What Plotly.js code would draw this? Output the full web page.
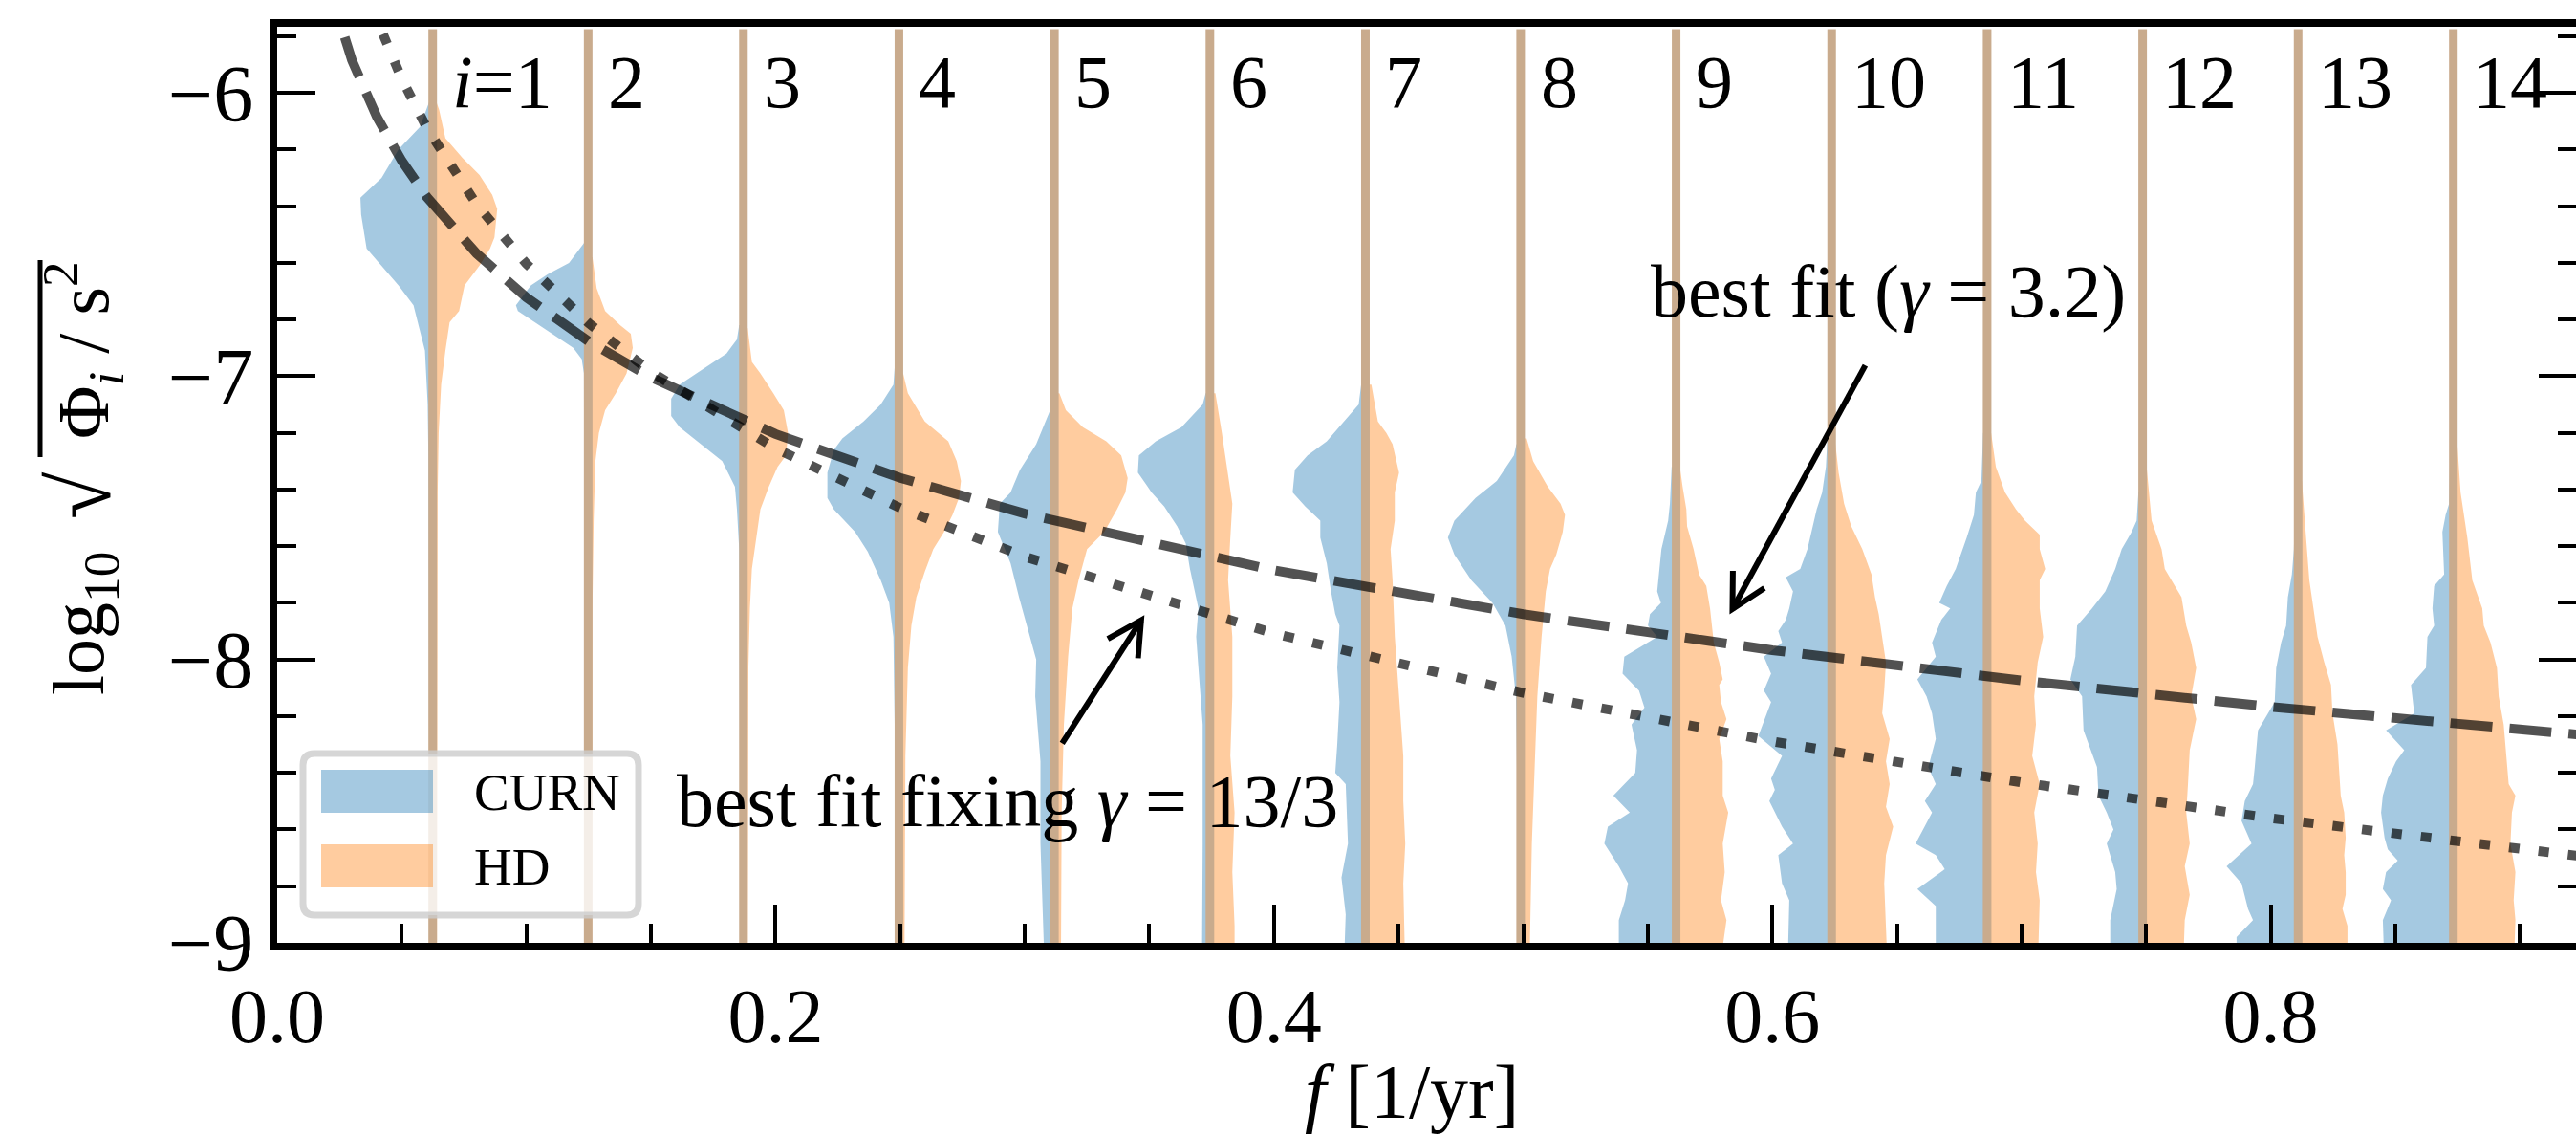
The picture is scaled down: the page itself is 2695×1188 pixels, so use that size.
<!DOCTYPE html>
<html><head><meta charset="utf-8">
<script src="https://cdn.plot.ly/plotly-3.0.1.min.js"></script>
<style>html,body{margin:0;padding:0;overflow:hidden;background:#fff}#chart{width:2704px;height:1188px}</style>
</head><body><div id="chart"></div>
<script>
// ---------------- data ----------------
const binFreqs = [0.0624, 0.1248, 0.1871, 0.2495, 0.3119, 0.3743, 0.4367, 0.4990, 0.5614, 0.6238, 0.6862, 0.7486, 0.8110, 0.8733];
const binLabels = ['<i>i</i>=1','2','3','4','5','6','7','8','9','10','11','12','13','14'];

// CURN half-violins (left side): log10 sqrt(Phi) levels and half-widths (1/yr)
const curnY = [
 [-6.02,-6.12,-6.20,-6.30,-6.37,-6.43,-6.55,-6.62,-6.68,-6.75,-6.81,-6.91,-7.10,-7.30,-9.1],
 [-6.53,-6.60,-6.64,-6.68,-6.75,-6.77,-6.80,-6.85,-6.90,-6.94,-6.99,-9.1],
 [-6.82,-6.87,-6.92,-6.98,-7.03,-7.08,-7.14,-7.18,-7.24,-7.30,-7.39,-7.47,-7.61,-9.1],
 [-6.97,-7.03,-7.10,-7.16,-7.22,-7.26,-7.34,-7.43,-7.47,-7.55,-7.62,-7.72,-7.80,-7.92,-8.23,-9.1],
 [-7.12,-7.24,-7.33,-7.41,-7.45,-7.55,-7.66,-7.78,-7.94,-8.00,-8.13,-8.36,-8.65,-9.1],
 [-7.06,-7.10,-7.18,-7.23,-7.28,-7.34,-7.41,-7.46,-7.53,-7.59,-7.68,-7.82,-7.92,-8.03,-8.23,-8.65,-9.1],
 [-7.03,-7.10,-7.16,-7.23,-7.28,-7.33,-7.41,-7.46,-7.51,-7.57,-7.66,-7.76,-7.84,-7.88,-8.03,-8.15,-8.30,-8.40,-8.44,-8.65,-8.77,-8.90,-9.1],
 [-7.24,-7.28,-7.37,-7.43,-7.51,-7.57,-7.63,-7.72,-7.80,-7.88,-7.99,-8.13,-8.44,-9.1],
 [-7.32,-7.45,-7.51,-7.61,-7.69,-7.76,-7.80,-7.84,-7.88,-7.92,-7.99,-8.05,-8.11,-8.17,-8.23,-8.32,-8.40,-8.48,-8.54,-8.59,-8.65,-8.73,-8.79,-8.85,-8.92,-9.1],
 [-7.20,-7.32,-7.41,-7.47,-7.55,-7.61,-7.68,-7.71,-7.76,-7.82,-7.86,-7.90,-7.94,-7.99,-8.05,-8.11,-8.15,-8.27,-8.34,-8.42,-8.46,-8.50,-8.59,-8.65,-8.69,-8.79,-8.85,-9.1],
 [-7.20,-7.37,-7.41,-7.49,-7.57,-7.68,-7.74,-7.80,-7.82,-7.86,-7.94,-7.99,-8.07,-8.13,-8.19,-8.28,-8.38,-8.44,-8.50,-8.54,-8.65,-8.69,-8.74,-8.81,-8.87,-9.1],
 [-7.41,-7.51,-7.55,-7.61,-7.68,-7.76,-7.82,-7.88,-7.99,-8.07,-8.13,-8.25,-8.30,-8.38,-8.48,-8.54,-8.60,-8.65,-8.75,-8.81,-8.92,-9.1],
 [-7.55,-7.61,-7.70,-7.78,-7.88,-7.94,-8.03,-8.15,-8.25,-8.38,-8.44,-8.50,-8.57,-8.65,-8.73,-8.79,-8.88,-8.92,-8.98,-9.1],
 [-7.26,-7.45,-7.49,-7.55,-7.70,-7.74,-7.82,-7.88,-7.92,-8.03,-8.09,-8.19,-8.25,-8.32,-8.36,-8.42,-8.48,-8.54,-8.63,-8.67,-8.71,-8.75,-8.81,-8.85,-8.92,-9.1]
];
const curnW = [
 [0.0009,0.0051,0.0137,0.0205,0.0290,0.0287,0.0265,0.0196,0.0137,0.0077,0.0060,0.0031,0.0020,0.0017,0.0012],
 [0.0017,0.0077,0.0162,0.0230,0.0290,0.0282,0.0230,0.0145,0.0060,0.0026,0.0017,0.0012],
 [0.0017,0.0026,0.0068,0.0171,0.0256,0.0290,0.0290,0.0256,0.0171,0.0085,0.0034,0.0026,0.0017,0.0012],
 [0.0017,0.0022,0.0073,0.0142,0.0227,0.0261,0.0287,0.0287,0.0261,0.0176,0.0125,0.0073,0.0039,0.0022,0.0017,0.0014],
 [0.0017,0.0073,0.0138,0.0176,0.0219,0.0227,0.0176,0.0142,0.0090,0.0073,0.0077,0.0056,0.0056,0.0039],
 [0.0017,0.0029,0.0114,0.0217,0.0285,0.0289,0.0234,0.0183,0.0131,0.0097,0.0080,0.0046,0.0055,0.0046,0.0029,0.0029,0.0032],
 [0.0017,0.0027,0.0087,0.0155,0.0232,0.0283,0.0292,0.0241,0.0181,0.0181,0.0155,0.0138,0.0121,0.0104,0.0113,0.0104,0.0113,0.0121,0.0079,0.0070,0.0096,0.0079,0.0087],
 [0.0017,0.0027,0.0096,0.0181,0.0266,0.0292,0.0266,0.0198,0.0113,0.0061,0.0036,0.0019,0.0014,0.0012],
 [0.0018,0.0025,0.0032,0.0059,0.0069,0.0076,0.0061,0.0105,0.0113,0.0076,0.0208,0.0215,0.0149,0.0127,0.0179,0.0157,0.0164,0.0252,0.0186,0.0274,0.0288,0.0230,0.0193,0.0205,0.0230,0.0230],
 [0.0016,0.0023,0.0038,0.0060,0.0082,0.0097,0.0126,0.0184,0.0155,0.0170,0.0184,0.0214,0.0199,0.0272,0.0243,0.0272,0.0243,0.0294,0.0199,0.0243,0.0228,0.0250,0.0199,0.0155,0.0214,0.0199,0.0170,0.0177],
 [0.0016,0.0023,0.0045,0.0053,0.0082,0.0126,0.0162,0.0192,0.0148,0.0184,0.0221,0.0206,0.0280,0.0243,0.0221,0.0206,0.0236,0.0206,0.0250,0.0221,0.0287,0.0206,0.0170,0.0280,0.0206,0.0206],
 [0.0017,0.0024,0.0044,0.0084,0.0110,0.0150,0.0203,0.0263,0.0270,0.0290,0.0243,0.0237,0.0217,0.0183,0.0177,0.0144,0.0117,0.0144,0.0110,0.0104,0.0130,0.0130],
 [0.0015,0.0017,0.0025,0.0041,0.0048,0.0068,0.0088,0.0094,0.0161,0.0174,0.0181,0.0214,0.0227,0.0187,0.0287,0.0227,0.0201,0.0181,0.0247,0.0247],
 [0.0013,0.0017,0.0031,0.0044,0.0037,0.0077,0.0084,0.0077,0.0104,0.0110,0.0170,0.0157,0.0270,0.0197,0.0230,0.0263,0.0283,0.0290,0.0276,0.0263,0.0223,0.0270,0.0283,0.0250,0.0283,0.0276]
];

// HD half-violins (right side)
const hdY = [
 [-6.02,-6.06,-6.16,-6.23,-6.29,-6.36,-6.41,-6.51,-6.55,-6.61,-6.68,-6.77,-6.81,-6.91,-7.03,-7.20,-7.41,-9.1],
 [-6.58,-6.69,-6.77,-6.82,-6.85,-6.90,-6.99,-7.06,-7.12,-7.20,-7.30,-7.51,-7.82,-9.1],
 [-6.83,-6.95,-6.99,-7.06,-7.12,-7.20,-7.28,-7.32,-7.39,-7.47,-7.57,-7.68,-7.82,-8.03,-9.1],
 [-6.99,-7.06,-7.16,-7.23,-7.30,-7.37,-7.43,-7.49,-7.55,-7.61,-7.69,-7.78,-7.88,-8.03,-8.34,-9.1],
 [-7.06,-7.12,-7.18,-7.23,-7.28,-7.36,-7.41,-7.47,-7.55,-7.61,-7.72,-7.82,-7.99,-8.23,-8.54,-9.1],
 [-7.06,-7.20,-7.30,-7.45,-7.57,-7.72,-7.92,-8.13,-8.34,-8.54,-8.75,-8.94,-9.1],
 [-7.03,-7.16,-7.20,-7.24,-7.34,-7.41,-7.51,-7.61,-7.72,-7.92,-8.13,-8.34,-8.50,-8.65,-8.79,-9.1],
 [-7.22,-7.30,-7.39,-7.45,-7.49,-7.55,-7.63,-7.68,-7.76,-7.92,-8.13,-8.34,-8.65,-9.1],
 [-7.32,-7.39,-7.47,-7.53,-7.61,-7.70,-7.74,-7.82,-7.94,-8.01,-8.07,-8.09,-8.15,-8.21,-8.28,-8.36,-8.48,-8.54,-8.65,-8.75,-8.85,-8.92,-9.1],
 [-7.24,-7.34,-7.45,-7.53,-7.61,-7.70,-7.78,-7.84,-7.92,-8.01,-8.11,-8.19,-8.28,-8.36,-8.44,-8.52,-8.59,-8.69,-8.79,-8.92,-9.1],
 [-7.20,-7.32,-7.41,-7.47,-7.51,-7.56,-7.61,-7.68,-7.72,-7.82,-7.92,-8.01,-8.13,-8.23,-8.34,-8.44,-8.54,-8.65,-8.75,-8.85,-9.1],
 [-7.32,-7.51,-7.61,-7.68,-7.74,-7.78,-7.88,-7.94,-8.03,-8.13,-8.21,-8.32,-8.44,-8.54,-8.65,-8.73,-8.83,-8.92,-9.1],
 [-7.37,-7.57,-7.72,-7.92,-8.01,-8.09,-8.19,-8.30,-8.38,-8.48,-8.54,-8.63,-8.69,-8.75,-8.83,-8.88,-8.94,-9.1],
 [-7.24,-7.41,-7.57,-7.72,-7.82,-7.88,-7.94,-8.03,-8.13,-8.23,-8.36,-8.44,-8.48,-8.54,-8.65,-8.75,-8.85,-8.92,-9.1]
];
const hdW = [
 [0.0010,0.0026,0.0051,0.0120,0.0188,0.0239,0.0259,0.0248,0.0230,0.0188,0.0128,0.0106,0.0068,0.0051,0.0034,0.0024,0.0020,0.0017],
 [0.0017,0.0034,0.0068,0.0128,0.0171,0.0179,0.0154,0.0111,0.0068,0.0043,0.0029,0.0022,0.0017,0.0015],
 [0.0017,0.0034,0.0068,0.0120,0.0162,0.0179,0.0171,0.0137,0.0102,0.0068,0.0051,0.0034,0.0026,0.0020,0.0017],
 [0.0017,0.0036,0.0104,0.0198,0.0232,0.0249,0.0241,0.0215,0.0181,0.0138,0.0104,0.0070,0.0050,0.0036,0.0026,0.0022],
 [0.0020,0.0046,0.0114,0.0208,0.0268,0.0294,0.0285,0.0251,0.0200,0.0131,0.0097,0.0072,0.0055,0.0038,0.0029,0.0026],
 [0.0022,0.0048,0.0065,0.0090,0.0082,0.0073,0.0090,0.0090,0.0082,0.0099,0.0090,0.0099,0.0099],
 [0.0024,0.0050,0.0084,0.0109,0.0135,0.0118,0.0118,0.0101,0.0109,0.0118,0.0135,0.0152,0.0152,0.0160,0.0152,0.0160],
 [0.0024,0.0050,0.0109,0.0160,0.0178,0.0169,0.0143,0.0118,0.0101,0.0084,0.0067,0.0058,0.0045,0.0035],
 [0.0015,0.0026,0.0041,0.0044,0.0070,0.0092,0.0121,0.0136,0.0151,0.0173,0.0187,0.0173,0.0180,0.0202,0.0173,0.0187,0.0187,0.0209,0.0187,0.0195,0.0180,0.0202,0.0173],
 [0.0015,0.0028,0.0050,0.0079,0.0123,0.0160,0.0174,0.0189,0.0203,0.0218,0.0211,0.0203,0.0233,0.0218,0.0233,0.0218,0.0247,0.0218,0.0211,0.0218,0.0225],
 [0.0016,0.0035,0.0072,0.0116,0.0152,0.0211,0.0211,0.0233,0.0211,0.0211,0.0225,0.0203,0.0189,0.0196,0.0181,0.0211,0.0189,0.0203,0.0196,0.0211,0.0203],
 [0.0016,0.0036,0.0076,0.0089,0.0129,0.0156,0.0175,0.0195,0.0215,0.0195,0.0215,0.0189,0.0182,0.0175,0.0189,0.0169,0.0189,0.0169,0.0162],
 [0.0015,0.0032,0.0045,0.0078,0.0105,0.0132,0.0138,0.0158,0.0165,0.0171,0.0185,0.0191,0.0185,0.0191,0.0191,0.0178,0.0198,0.0198],
 [0.0016,0.0029,0.0056,0.0076,0.0116,0.0122,0.0149,0.0175,0.0182,0.0202,0.0215,0.0222,0.0249,0.0235,0.0229,0.0249,0.0242,0.0249,0.0242]
];

// fitted power-law curves
const fitFreqs  = [0.02, 0.025, 0.03, 0.04, 0.05, 0.06, 0.08, 0.10, 0.125, 0.15, 0.20, 0.25, 0.30, 0.40, 0.50, 0.60, 0.70, 0.80, 0.90, 0.95];
const bestFitY  = [-5.604,-5.759,-5.885,-6.085,-6.240,-6.367,-6.567,-6.722,-6.877,-7.004,-7.204,-7.359,-7.485,-7.685,-7.840,-7.967,-8.074,-8.167,-8.249,-8.286];
const fixedFitY = [-5.089,-5.299,-5.470,-5.741,-5.951,-6.123,-6.393,-6.603,-6.813,-6.985,-7.255,-7.465,-7.637,-7.908,-8.118,-8.289,-8.434,-8.560,-8.671,-8.722];

const seriesNames = ['CURN', 'HD'];
const bestFitText  = 'best fit (<i>γ</i> = 3.2)';
const fixedFitText = 'best fit fixing <i>γ</i> = 13/3';
const xTitle = '<i>f</i> [1/yr]';
const yTitleParts = ['log<sub>10</sub>', '√', 'Φ<sub><i>i</i></sub> / s<sup>2</sup>'];

// ---------------- styling / geometry ----------------
const FONT = 'Liberation Serif, Times New Roman, serif';
const W = 2704, H = 1188, ML = 290, MR = 8, MT = 28, MB = 202;
const plotW = W - ML - MR, plotH = H - MT - MB;
const xRange = [0, plotW / 2607];
const yRange = [-9, -9 + plotH / 296.3];
const sx = plotW / (xRange[1] - xRange[0]);
const sy = plotH / (yRange[1] - yRange[0]);
const BLUE = 'rgba(31,119,180,0.4)', ORANGE = 'rgba(255,127,14,0.4)';
const TAN = 'rgb(201,171,141)';

const traces = [];
binFreqs.forEach((f, k) => {
  [[curnY[k], curnW[k], -1, BLUE], [hdY[k], hdW[k], 1, ORANGE]].forEach(([ys, ws, sgn, col]) => {
    const x = [f], y = [ys[0]];
    for (let j = 0; j < ys.length; j++) { x.push(f + sgn * ws[j]); y.push(ys[j]); }
    x.push(f); y.push(ys[ys.length - 1]);
    traces.push({type: 'scatter', mode: 'lines', x, y, fill: 'toself', fillcolor: col,
      line: {width: 0, color: col}, hoverinfo: 'skip', showlegend: false});
  });
});
// central lines of the violins
const lx = [], ly = [];
binFreqs.forEach(f => { lx.push(f, f, null); ly.push(-9.2, -5.775, null); });
traces.push({type: 'scatter', mode: 'lines', x: lx, y: ly, line: {color: TAN, width: 9},
  hoverinfo: 'skip', showlegend: false, connectgaps: false});
// fits
traces.push({type: 'scatter', mode: 'lines', x: fitFreqs, y: bestFitY,
  line: {color: 'rgba(0,0,0,0.68)', width: 10, dash: '44px,18px'}, hoverinfo: 'skip', showlegend: false});
traces.push({type: 'scatter', mode: 'lines', x: fitFreqs, y: fixedFitY,
  line: {color: 'rgba(0,0,0,0.68)', width: 10, dash: '11px,20px'}, hoverinfo: 'skip', showlegend: false});

// helpers
const px2pX = p => (p - ML) / plotW;
const px2pY = p => (H - MB - p) / plotH;

const annotations = [];
binFreqs.forEach((f, k) => annotations.push({x: f + 0.0072, y: -5.96, xref: 'x', yref: 'y', text: binLabels[k],
  showarrow: false, xanchor: 'left', yanchor: 'middle', font: {family: FONT, size: 78, color: 'black'}}));
annotations.push({x: 0.5505, y: -6.70, xref: 'x', yref: 'y', text: bestFitText, showarrow: false,
  xanchor: 'left', yanchor: 'middle', font: {family: FONT, size: 78, color: 'black'}});
annotations.push({x: 0.1597, y: -8.50, xref: 'x', yref: 'y', text: fixedFitText, showarrow: false,
  xanchor: 'left', yanchor: 'middle', font: {family: FONT, size: 78, color: 'black'}});
// axis titles
annotations.push({x: px2pX(1477), y: px2pY(1142), xref: 'paper', yref: 'paper', text: xTitle,
  showarrow: false, xanchor: 'center', yanchor: 'middle', font: {family: FONT, size: 80, color: 'black'}});
const yt = {xref: 'paper', yref: 'paper', textangle: -90, showarrow: false, xanchor: 'center', yanchor: 'middle'};
annotations.push(Object.assign({}, yt, {x: px2pX(88), y: px2pY(652), text: yTitleParts[0], font: {family: FONT, size: 76, color: 'black'}}));
annotations.push(Object.assign({}, yt, {x: px2pX(84), y: px2pY(518), text: yTitleParts[1], font: {family: FONT, size: 90, color: 'black'}}));
annotations.push(Object.assign({}, yt, {x: px2pX(88), y: px2pY(366), text: yTitleParts[2], font: {family: FONT, size: 76, color: 'black'}}));
// legend labels
annotations.push({x: px2pX(494), y: px2pY(828), xref: 'paper', yref: 'paper', text: seriesNames[0],
  showarrow: false, xanchor: 'left', yanchor: 'middle', font: {family: FONT, size: 55, color: 'black'}});
annotations.push({x: px2pX(494), y: px2pY(906), xref: 'paper', yref: 'paper', text: seriesNames[1],
  showarrow: false, xanchor: 'left', yanchor: 'middle', font: {family: FONT, size: 55, color: 'black'}});

const shapes = [];
// radical overline of the y title
shapes.push({type: 'line', xref: 'paper', yref: 'paper', x0: px2pX(42), x1: px2pX(42), y0: px2pY(478), y1: px2pY(272),
  line: {color: 'black', width: 5}, layer: 'above'});
// legend frame (rounded)
(function(){
  const x0 = px2pX(317), x1 = px2pX(668), y0 = px2pY(957), y1 = px2pY(788);
  const rx = 12 / plotW, ry = 12 / plotH;
  const p = `M${x0+rx},${y0} L${x1-rx},${y0} Q${x1},${y0} ${x1},${y0+ry} L${x1},${y1-ry} Q${x1},${y1} ${x1-rx},${y1} ` +
            `L${x0+rx},${y1} Q${x0},${y1} ${x0},${y1-ry} L${x0},${y0+ry} Q${x0},${y0} ${x0+rx},${y0} Z`;
  shapes.push({type: 'path', xref: 'paper', yref: 'paper', path: p, layer: 'above',
    fillcolor: 'rgba(255,255,255,0.8)', line: {color: 'rgba(204,204,204,0.8)', width: 7}});
  shapes.push({type: 'rect', xref: 'paper', yref: 'paper', x0: px2pX(336), x1: px2pX(453), y0: px2pY(850), y1: px2pY(805),
    fillcolor: BLUE, line: {width: 0}, layer: 'above'});
  shapes.push({type: 'rect', xref: 'paper', yref: 'paper', x0: px2pX(336), x1: px2pX(453), y0: px2pY(928), y1: px2pY(883),
    fillcolor: ORANGE, line: {width: 0}, layer: 'above'});
})();
// arrows
function arrow(tx, ty, hx, hy) {
  shapes.push({type: 'line', xref: 'x', yref: 'y', x0: tx, y0: ty, x1: hx, y1: hy, layer: 'above',
    line: {color: 'black', width: 6}});
  const a = Math.atan2((ty - hy) * sy, (tx - hx) * sx);
  const L = 40, th = 28 * Math.PI / 180;
  const w1x = hx + L * Math.cos(a + th) / sx, w1y = hy + L * Math.sin(a + th) / sy;
  const w2x = hx + L * Math.cos(a - th) / sx, w2y = hy + L * Math.sin(a - th) / sy;
  shapes.push({type: 'path', xref: 'x', yref: 'y', layer: 'above',
    path: `M${w1x},${w1y} L${hx},${hy} L${w2x},${w2y}`, line: {color: 'black', width: 6}});
}
arrow(0.6373, -6.962, 0.5840, -7.822);
arrow(0.3150, -8.296, 0.3467, -7.861);

const layout = {
  width: W, height: H,
  margin: {l: ML, r: MR, t: MT, b: MB, pad: 0},
  paper_bgcolor: 'white', plot_bgcolor: 'white',
  showlegend: false,
  font: {family: FONT, color: 'black'},
  xaxis: {range: xRange, autorange: false, showgrid: false, zeroline: false,
    showline: true, linewidth: 8, linecolor: 'black', mirror: true,
    ticks: 'inside', ticklen: 40, tickwidth: 4, tickcolor: 'black',
    tick0: 0, dtick: 0.2, tickformat: '.1f',
    minor: {tick0: 0, dtick: 0.05, ticks: 'inside', ticklen: 20, tickwidth: 4, tickcolor: 'black', showgrid: false},
    tickfont: {family: FONT, size: 80, color: 'black'}},
  yaxis: {range: yRange, autorange: false, showgrid: false, zeroline: false,
    showline: true, linewidth: 8, linecolor: 'black', mirror: 'ticks',
    ticks: 'inside', ticklen: 40, tickwidth: 4, tickcolor: 'black',
    tick0: -9, dtick: 1,
    minor: {tick0: -9, dtick: 0.2, ticks: 'inside', ticklen: 20, tickwidth: 4, tickcolor: 'black', showgrid: false},
    tickfont: {family: FONT, size: 84, color: 'black'}},
  annotations, shapes
};
Plotly.newPlot('chart', traces, layout, {staticPlot: true, displayModeBar: false});
</script></body></html>
